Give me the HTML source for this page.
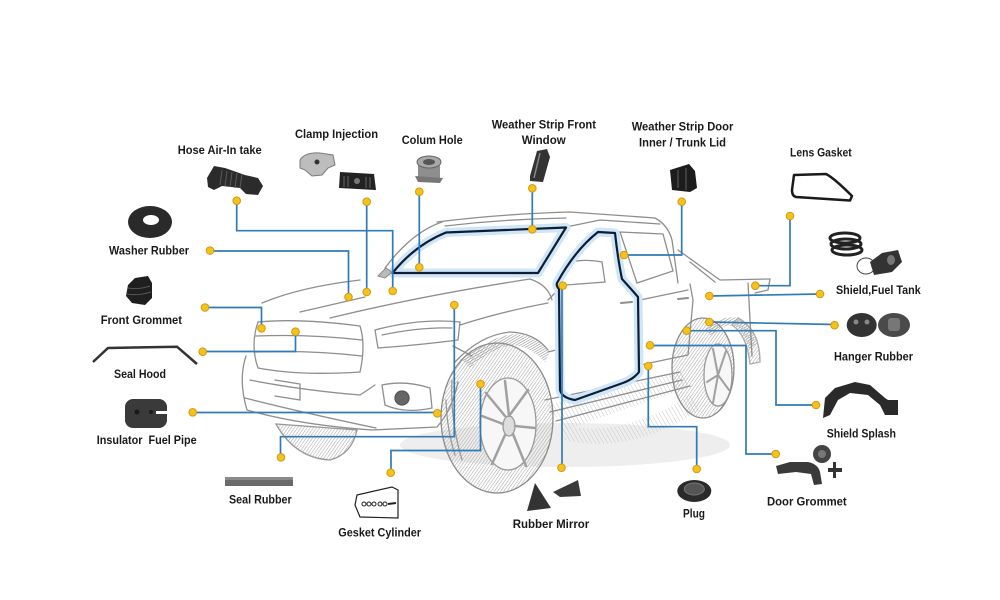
<!DOCTYPE html>
<html><head><meta charset="utf-8"><style>
html,body{margin:0;padding:0;background:#fff;}
svg{display:block;}
text{font-family:"Liberation Sans",Arial,sans-serif;font-weight:bold;font-size:12px;fill:#1a1a1a;}
</style></head><body>
<svg width="1000" height="600" viewBox="0 0 1000 600" xmlns="http://www.w3.org/2000/svg">
<defs>
<pattern id="h" width="2.6" height="2.6" patternUnits="userSpaceOnUse" patternTransform="rotate(35)"><line x1="0" y1="0" x2="0" y2="2.6" stroke="#a9a9a9" stroke-width="1.1"/></pattern>
<pattern id="hd" width="2.2" height="2.2" patternUnits="userSpaceOnUse" patternTransform="rotate(60)"><line x1="0" y1="0" x2="0" y2="2.2" stroke="#8a8a8a" stroke-width="1.1"/></pattern>
<pattern id="h2" width="3.5" height="3.5" patternUnits="userSpaceOnUse" patternTransform="rotate(-30)"><line x1="0" y1="0" x2="0" y2="3.5" stroke="#c6c6c6" stroke-width="1"/></pattern>
</defs>
<rect width="1000" height="600" fill="#fff"/>

<!-- ===== CAR SKETCH ===== -->
<g fill="none" stroke="#8e8e8e" stroke-width="1.3" stroke-linecap="round">
<!-- shadows -->
<ellipse cx="565" cy="445" rx="165" ry="22" fill="#eeeeee" stroke="none"/>
<path d="M548,405 L680,372 L692,386 L565,430 Z" fill="url(#h2)" stroke="none"/>
<path d="M560,425 Q620,440 690,395 L700,410 Q630,455 565,440 Z" fill="url(#h2)" stroke="none"/>
<!-- left front tire under bumper -->
<path d="M276,424 Q295,458 330,460 Q352,454 357,430 Z" fill="url(#h)" stroke="#999"/>
<!-- front tire -->
<ellipse cx="497" cy="418" rx="56" ry="75" fill="url(#h)" stroke="#8a8a8a"/>
<ellipse cx="508" cy="424" rx="28" ry="46" fill="#f7f7f7" stroke="#999"/>
<ellipse cx="509" cy="426" rx="6" ry="10" fill="#ddd" stroke="#999"/>
<path d="M509,416 L505,381 M509,416 L528,390 M515,426 L535,428 M513,434 L526,466 M505,435 L492,464 M503,424 L482,416 M505,416 L486,393" stroke="#a0a0a0" stroke-width="2.5"/>
<path d="M452,380 Q450,420 462,460 M446,400 Q447,430 455,455" stroke="#9a9a9a"/>
<!-- front arch liner -->
<path d="M462,360 Q490,336 515,334 Q538,336 550,352 L545,362 Q530,346 512,345 Q490,348 470,368 Z" fill="url(#hd)" stroke="none"/>
<!-- rear tire -->
<ellipse cx="703" cy="368" rx="31" ry="50" fill="url(#h)" stroke="#8a8a8a"/>
<ellipse cx="718" cy="375" rx="14" ry="31" fill="#f7f7f7" stroke="#999"/>
<path d="M718,375 L713,349 M718,375 L726,351 M718,375 L729,390 M718,375 L713,403 M718,375 L707,382" stroke="#a0a0a0" stroke-width="2"/>
<!-- rear arch liner -->
<path d="M705,330 Q720,314 740,318 Q752,325 756,345 L749,350 Q744,330 735,326 Q722,323 712,336 Z" fill="url(#hd)" stroke="none"/>
<path d="M738,318 Q760,330 760,362 L750,364 Q747,335 732,325 Z" fill="url(#h)" stroke="#aaa"/>

<!-- roof, pillars -->
<path d="M437,222 Q500,214 570,212 L655,218 Q668,225 672,240 L678,283"/>
<path d="M445,226 Q505,219 566,218"/>
<path d="M385,268 Q412,232 442,222"/>
<path d="M566,227 L600,220 L660,224"/>
<!-- rear cab window -->
<path d="M620,232 L663,234 L673,271 L637,283 Z"/>
<!-- bed -->
<path d="M678,250 L720,280 L770,279"/>
<path d="M690,262 L715,282"/>
<path d="M748,283 L752,356"/>
<path d="M690,284 L693,300 L688,355"/>
<path d="M770,279 L768,290 L755,293"/>
<!-- hood -->
<path d="M262,303 Q300,287 360,280"/>
<path d="M330,318 Q420,296 530,279"/>
<path d="M300,312 Q330,305 365,297"/>
<path d="M530,279 Q548,285 552,300"/>
<path d="M460,325 Q500,312 548,303"/>
<!-- grille -->
<path d="M258,322 Q300,318 360,326 Q366,345 360,372 Q300,376 258,368 Q250,345 258,322 Z"/>
<path d="M256,336 Q310,334 362,340"/>
<path d="M255,352 Q310,350 362,356"/>
<!-- headlight -->
<path d="M375,330 Q420,318 460,322 L458,340 Q420,345 378,348 Z"/>
<path d="M382,335 Q420,327 452,328"/>
<path d="M453,346 L472,356"/>
<!-- bumper -->
<path d="M246,356 Q238,380 247,410 Q300,425 372,430 L437,427 Q452,410 458,382"/>
<path d="M245,398 Q300,412 376,428"/>
<path d="M250,380 Q300,390 360,395 L375,385"/>
<path d="M275,380 L300,384 L300,400 L275,396"/>
<!-- fog light -->
<path d="M382,385 Q405,380 430,388 L432,408 Q405,414 385,405 Z"/>
<ellipse cx="402" cy="398" rx="7" ry="7" fill="#666" stroke="#555"/>
<!-- wheel arch -->
<path d="M455,362 Q480,335 510,332 Q535,333 548,350"/>
<!-- side body -->
<path d="M548,300 L558,290"/>
<path d="M548,352 L556,350"/>
<path d="M545,400 L680,372"/>
<path d="M550,412 L682,380"/>
<path d="M556,421 L690,386"/>
<path d="M640,300 L688,290"/>
<path d="M640,365 L688,355"/>
<!-- mirror -->
<path d="M565,264 Q580,258 602,262 L605,282 L566,285"/>
<!-- handles -->
<path d="M621,303 L632,302 M678,299 L688,298" stroke-width="2"/>
</g>

<!-- windshield & door outlines -->
<g fill="none" stroke-linejoin="round">
<path d="M392.5,273 L538,273 L566,227.5 L446,232.5 Q415,245 392.5,273 Z" stroke="#cfe6f7" stroke-width="9"/>
<path d="M559,289 Q556,286 557,283 Q575,250 598,232 L615,233 Q618,260 622,279 Q632,290 638,297 L639,372 Q633,380 620,384 L575,400 Q562,398 560,390 Z" stroke="#cfe6f7" stroke-width="9"/>
<path d="M392.5,273 L538,273 L566,227.5 L446,232.5 Q415,245 392.5,273 Z" stroke="#0e1c36" stroke-width="2.2"/>
<path d="M559,289 Q556,286 557,283 Q575,250 598,232 L615,233 Q618,260 622,279 Q632,290 638,297 L639,372 Q633,380 620,384 L575,400 Q562,398 560,390 Z" stroke="#0e1c36" stroke-width="2.2"/>
</g>
<path d="M378,276 L386,268 L392,272 L385,278 Z" fill="#bbb" stroke="#888"/>

<!-- ===== CONNECTORS ===== -->
<g fill="none" stroke="#2f7bb6" stroke-width="1.7">
<path d="M236.7,200.7 V230.7 H392.7 V291"/>
<path d="M366.7,201.7 V292"/>
<path d="M419.3,191.7 V267.3"/>
<path d="M210,251 H348.5 V297"/>
<path d="M205,307.5 H261.5 V328.3"/>
<path d="M202.7,351.5 H295.5 V331.7"/>
<path d="M192.7,412.5 H437.3"/>
<path d="M454.3,305 V436.7 H280.5 V457.3"/>
<path d="M480.5,384 V450.5 H391 V472.7"/>
<path d="M532.3,188.3 V229.3"/>
<path d="M681.7,201.7 V255 H624"/>
<path d="M790,216 V285.7 H755.3"/>
<path d="M709.3,296 L820,294"/>
<path d="M709.3,322 L835,324.5"/>
<path d="M686.7,330.7 H776 V405 H816"/>
<path d="M650,345.5 H746 V454 H775.7"/>
<path d="M648.3,366 V426.7 H696.7 V469"/>
<path d="M562,285.7 V467.7"/>
</g>

<!-- dots -->
<g fill="#f4c21b" stroke="#d19a12" stroke-width="1">
<circle cx="236.7" cy="200.7" r="3.8"/><circle cx="392.7" cy="291" r="3.8"/>
<circle cx="366.7" cy="201.7" r="3.8"/><circle cx="366.7" cy="292" r="3.8"/>
<circle cx="419.3" cy="191.7" r="3.8"/><circle cx="419.3" cy="267.3" r="3.8"/>
<circle cx="210" cy="250.5" r="3.8"/><circle cx="348.5" cy="297" r="3.8"/>
<circle cx="205" cy="307.5" r="3.8"/><circle cx="261.5" cy="328.3" r="3.8"/>
<circle cx="202.7" cy="351.7" r="3.8"/><circle cx="295.5" cy="331.7" r="3.8"/>
<circle cx="192.7" cy="412.3" r="3.8"/><circle cx="437.3" cy="413.3" r="3.8"/>
<circle cx="454.3" cy="305" r="3.8"/><circle cx="281" cy="457.3" r="3.8"/>
<circle cx="480.5" cy="384" r="3.8"/><circle cx="390.7" cy="472.7" r="3.8"/>
<circle cx="532.3" cy="188.3" r="3.8"/><circle cx="532.3" cy="229.3" r="3.8"/>
<circle cx="681.7" cy="201.7" r="3.8"/><circle cx="624" cy="255" r="3.8"/>
<circle cx="790" cy="216" r="3.8"/><circle cx="755.3" cy="285.7" r="3.8"/>
<circle cx="709.3" cy="296" r="3.8"/><circle cx="820" cy="294" r="3.8"/>
<circle cx="709.3" cy="322" r="3.8"/><circle cx="834.5" cy="325.2" r="3.8"/>
<circle cx="686.7" cy="330.7" r="3.8"/><circle cx="816" cy="405" r="3.8"/>
<circle cx="650" cy="345.3" r="3.8"/><circle cx="775.7" cy="454" r="3.8"/>
<circle cx="648.3" cy="366" r="3.8"/><circle cx="696.7" cy="469" r="3.8"/>
<circle cx="562.7" cy="285.7" r="3.8"/><circle cx="561.5" cy="467.7" r="3.8"/>
</g>

<!-- ===== PART ICONS ===== -->
<!-- Hose -->
<path d="M207,178 L214,166 L225,168 L245,175 L258,178 L263,186 L258,195 L246,194 L240,188 L222,186 L214,190 L208,187 Z" fill="#2b2b2b"/>
<path d="M222,170 L220,185 M227,171 L225,186 M232,172 L230,187 M237,173 L235,188 M242,174 L240,188" stroke="#5a5a5a" stroke-width="1"/>
<!-- Clamp 1 -->
<path d="M300,160 Q305,152 320,153 L333,155 L335,165 L328,168 L322,175 L312,176 L305,170 L300,168 Z" fill="#bdbdbd" stroke="#7a7a7a"/>
<circle cx="317" cy="162" r="2.5" fill="#333"/>
<!-- Clamp 2 -->
<path d="M340,172 L374,174 L376,190 L339,188 Z" fill="#222"/>
<path d="M344,176 L344,187 M348,176 L348,187 M366,177 L366,188 M370,177 L370,188" stroke="#666" stroke-width="1"/>
<circle cx="357" cy="181" r="3" fill="#777"/>
<!-- Colum hole -->
<rect x="418" y="162" width="22" height="17" fill="#8e8e8e"/>
<ellipse cx="429" cy="162" rx="12" ry="6" fill="#a8a8a8" stroke="#666"/>
<ellipse cx="429" cy="162" rx="6" ry="3" fill="#555"/>
<path d="M415,176 L443,178 L440,183 L418,182 Z" fill="#777"/>
<!-- Weather strip front window -->
<path d="M530,176 L537,151 L547,149 L550,157 L543,182 L530,181 Z" fill="#333"/>
<path d="M540,153 L534,178" stroke="#888" stroke-width="1.5"/>
<!-- Weather strip door -->
<path d="M670,170 L689,164 L695,171 L697,188 L690,192 L672,190 Z" fill="#1c1c1c"/>
<path d="M678,170 L678,188 M686,168 L686,190" stroke="#555" stroke-width="1.2"/>
<!-- Lens gasket -->
<path d="M794,175 L826,174 Q834,178 852,196 L850,200.5 L796,197 Q792,196 792,190 Z" fill="none" stroke="#1a1a1a" stroke-width="2.5" stroke-linejoin="round"/>
<!-- Shield fuel tank -->
<g fill="none" stroke="#222" stroke-width="3">
<ellipse cx="845" cy="238" rx="15" ry="5"/>
<ellipse cx="846" cy="244" rx="15" ry="5"/>
<ellipse cx="847" cy="250" rx="15" ry="5"/>
</g>
<ellipse cx="866" cy="266" rx="9" ry="8" fill="none" stroke="#444" stroke-width="1"/>
<path d="M870,262 L882,253 L898,250 L902,262 L892,272 L874,275 Z" fill="#333"/>
<ellipse cx="891" cy="260" rx="4" ry="5" fill="#777"/>
<!-- Washer -->
<ellipse cx="150" cy="222" rx="22" ry="16" fill="#2a2a2a"/>
<ellipse cx="151" cy="220" rx="8" ry="5" fill="#fff"/>
<!-- Front grommet -->
<path d="M128,285 L135,278 L148,276 L152,283 L152,298 L145,305 L132,303 L126,296 Z" fill="#1f1f1f"/>
<path d="M128,288 Q138,290 150,286 M127,294 Q138,296 151,292" stroke="#555" stroke-width="1" fill="none"/>
<!-- Seal hood -->
<polyline points="93,362 108,348 177,346.7 197,364" fill="none" stroke="#333" stroke-width="2.5"/>
<!-- Insulator -->
<rect x="125" y="399" width="42" height="29" rx="8" fill="#3a3a3a"/>
<rect x="156" y="411" width="11" height="3" fill="#fff"/>
<circle cx="137" cy="412" r="2.5" fill="#1a1a1a"/>
<circle cx="151" cy="412" r="2" fill="#1a1a1a"/>
<!-- Seal rubber -->
<rect x="225" y="477" width="68" height="9" fill="#6a6a6a"/>
<rect x="225" y="477" width="68" height="3" fill="#8a8a8a"/>
<!-- Gesket cylinder -->
<path d="M357,495 L392,487 L398,490 L398,518 L360,517 L355,505 Z" fill="#fff" stroke="#222" stroke-width="1.2"/>
<g fill="none" stroke="#222" stroke-width="1"><circle cx="364" cy="504" r="2"/><circle cx="369" cy="504" r="2"/><circle cx="374" cy="504" r="2"/><circle cx="380" cy="504" r="2"/><circle cx="385" cy="504" r="2"/></g>
<path d="M388,504 L396,503" stroke="#222" stroke-width="2"/>
<!-- Rubber mirror -->
<path d="M527,511 L535,483 L551,508 Z" fill="#333"/>
<path d="M553,492 L578,480 L581,496 L560,497 Z" fill="#3a3a3a"/>
<!-- Plug -->
<ellipse cx="694.3" cy="491" rx="17" ry="11" fill="#2a2a2a"/>
<ellipse cx="694.3" cy="489" rx="10" ry="6" fill="#555" stroke="#777"/>
<!-- Door grommet -->
<circle cx="822" cy="454" r="9" fill="#444"/>
<circle cx="822" cy="454" r="4" fill="#777"/>
<path d="M776,466 L790,462 L808,462 Q818,464 820,472 L822,484 L814,485 L811,474 L796,472 L778,474 Z" fill="#3a3a3a"/>
<rect x="833" y="462" width="3" height="16" fill="#333"/>
<rect x="828" y="468" width="14" height="4" fill="#333"/>
<!-- Hanger rubber -->
<ellipse cx="861.7" cy="325" rx="15" ry="12" fill="#333"/>
<circle cx="856" cy="322" r="2.5" fill="#888"/><circle cx="867" cy="322" r="2.5" fill="#888"/>
<ellipse cx="894" cy="325" rx="16" ry="12" fill="#4a4a4a"/>
<rect x="888" y="318" width="12" height="13" rx="3" fill="#777"/>
<!-- Shield splash -->
<path d="M823,418 L825,398 L835,388 L855,382 L870,385 L885,398 L888,400 L898,400 L898,415 L885,415 L880,405 L868,395 L850,393 L838,400 L830,415 Z" fill="#2a2a2a"/>

<!-- ===== LABELS ===== -->
<text x="177.7" y="154" textLength="84" lengthAdjust="spacingAndGlyphs">Hose Air-In take</text>
<text x="295" y="138" textLength="83" lengthAdjust="spacingAndGlyphs">Clamp Injection</text>
<text x="401.7" y="144" textLength="61" lengthAdjust="spacingAndGlyphs">Colum Hole</text>
<text x="491.7" y="128.3" textLength="104.3" lengthAdjust="spacingAndGlyphs">Weather Strip Front</text>
<text x="521.7" y="144" textLength="44" lengthAdjust="spacingAndGlyphs">Window</text>
<text x="631.7" y="130.7" textLength="101.6" lengthAdjust="spacingAndGlyphs">Weather Strip Door</text>
<text x="639" y="146.7" textLength="87" lengthAdjust="spacingAndGlyphs">Inner / Trunk Lid</text>
<text x="790" y="156.7" textLength="61.7" lengthAdjust="spacingAndGlyphs">Lens Gasket</text>
<text x="109" y="254.7" textLength="80" lengthAdjust="spacingAndGlyphs">Washer Rubber</text>
<text x="836" y="294" textLength="84.7" lengthAdjust="spacingAndGlyphs">Shield,Fuel Tank</text>
<text x="100.7" y="324" textLength="81.3" lengthAdjust="spacingAndGlyphs">Front Grommet</text>
<text x="834" y="360.7" textLength="79" lengthAdjust="spacingAndGlyphs">Hanger Rubber</text>
<text x="114" y="378" textLength="52" lengthAdjust="spacingAndGlyphs">Seal Hood</text>
<text x="826.7" y="437.3" textLength="69.3" lengthAdjust="spacingAndGlyphs">Shield Splash</text>
<text x="96.7" y="444" textLength="100" lengthAdjust="spacingAndGlyphs" xml:space="preserve">Insulator  Fuel Pipe</text>
<text x="229" y="503.3" textLength="62.7" lengthAdjust="spacingAndGlyphs">Seal Rubber</text>
<text x="767" y="505.7" textLength="79.7" lengthAdjust="spacingAndGlyphs">Door Grommet</text>
<text x="683" y="517.3" textLength="22" lengthAdjust="spacingAndGlyphs">Plug</text>
<text x="512.7" y="528" textLength="76.6" lengthAdjust="spacingAndGlyphs">Rubber Mirror</text>
<text x="338.3" y="536.7" textLength="82.7" lengthAdjust="spacingAndGlyphs">Gesket Cylinder</text>
</svg>
</body></html>
